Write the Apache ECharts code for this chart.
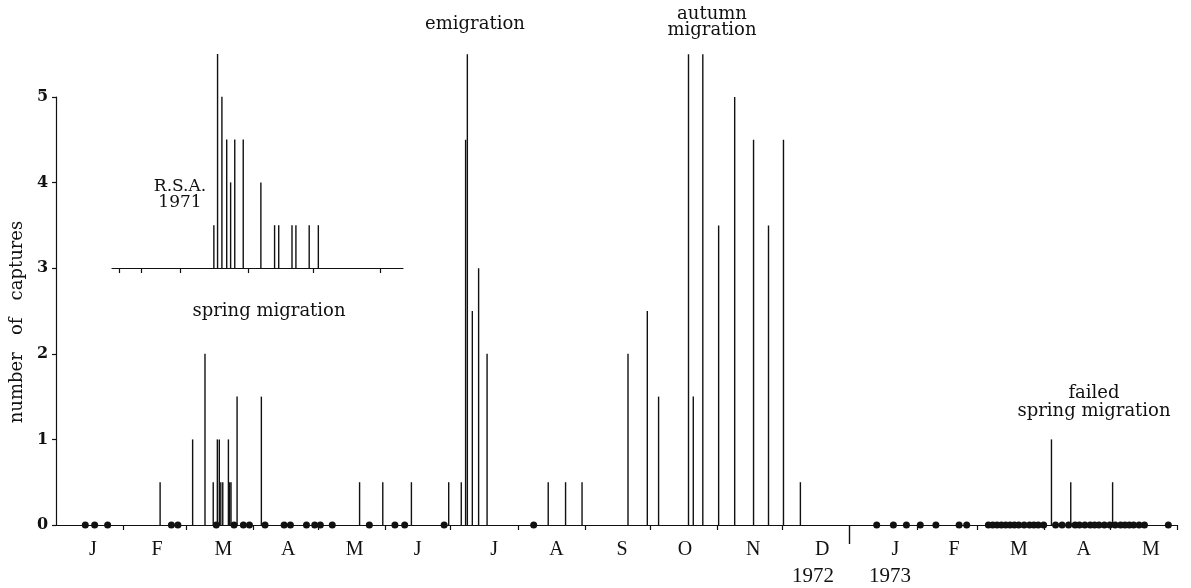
<!DOCTYPE html>
<html><head><meta charset="utf-8">
<script src="https://cdn.jsdelivr.net/npm/echarts@6/dist/echarts.min.js"></script>
<style>html,body{margin:0;padding:0;background:#fff}#c{width:1191px;height:588px}</style>
</head><body><div id="c"></div>
<script>
// x values: days counted from 1 January 1972 (inset: days from 1 January 1971)
const monthLabels = ['J','F','M','A','M','J','J','A','S','O','N','D','J','F','M','A','M'];
const monthLabelDays = [17,46.6,77.2,107.1,137.7,166.8,202.1,230.8,261,290.1,321.6,353.4,387.1,414.2,444.1,474,505];
const monthStartDays = [31,60,91,121,152,182,213,244,274,305,335,397,425,456,486,517];
const yearBreakDays = [366];
const yearLabels = ['1972','1973'];

const captureDays = [48,63,68.7,72.5,74.4,75.3,76.0,76.9,79.5,80.1,80.7,83.5,94.7,
  140,150.7,163.9,181.1,186.9,188.9,189.7,192,194.9,198.8,
  227,235,242.6,263.8,272.7,277.9,291.7,293.9,298.3,305.6,313,321.7,328.6,335.5,343.3,
  459.1,468,487.3];
const captureValues = [0.5,1,2,0.5,1,1,0.5,0.5,1,0.5,0.5,1.5,1.5,
  0.5,0.5,0.5,0.5,0.5,4.5,5.5,2.5,3,2,
  0.5,0.5,0.5,2,2.5,1.5,5.5,1.5,5.5,3.5,5,4.5,3.5,4.5,0.5,
  1,0.5,0.5];

const zeroDays = [13.5,17.8,23.8,53.2,56.2,73.9,82.1,86.4,89.2,96.4,105.2,108.1,115.5,119.3,121.9,127.4,
  144.5,156.3,160.8,179,220.3,
  378.5,386.2,392.2,398.6,405.8,416.5,420,
  430,432,434,436,438,440,442,444,446.5,449,451,453,455.5,
  461,464,467,470,472,474.5,477,479,481,483.5,486,
  488.5,491,493,495,497,499.5,502,513];

const insetDays = [74.4,76.1,78.1,80.3,82.1,84.0,87.9,96.0,102.3,104.2,110.3,112.1,118.2,122.4];
const insetValues = [0.5,2.5,2,1.5,1,1.5,1.5,1,0.5,0.5,0.5,0.5,0.5,0.5];
const insetTickDays = [31,41,59,90,120,151];

const ink = '#111';
const serif = '"DejaVu Serif", serif';
const times = '"Liberation Serif", "Times New Roman", serif';

function label(x, y, text, font, lh) {
  return {type: 'text', x: x, y: y, style: {text: text, font: font, lineHeight: lh, fill: ink,
    align: 'center', verticalAlign: 'middle', textAlign: 'center', textVerticalAlign: 'middle'}};
}

const chart = echarts.init(document.getElementById('c'), null, {renderer:'canvas'});
chart.setOption({
  animation: false,
  backgroundColor: '#fff',
  grid: [
    {left: 52, right: 14, top: 97, bottom: 63},
    {left: 112, right: 788, top: 54, bottom: 320}
  ],
  xAxis: [
    {gridIndex: 0, type: 'value', min: 0, max: 517,
     axisLine: {show: true, lineStyle: {color: ink, width: 1.2}},
     axisTick: {show: true, customValues: monthStartDays, length: 5, lineStyle: {color: ink, width: 1.2}},
     axisLabel: {show: true, customValues: monthLabelDays, margin: 15,
       formatter: v => monthLabels[monthLabelDays.indexOf(v)] || '',
       color: ink, fontFamily: times, fontSize: 20},
     splitLine: {show: false}},
    {gridIndex: 0, type: 'value', min: 0, max: 517,
     axisLine: {show: false},
     axisTick: {show: true, customValues: yearBreakDays, length: 19, lineStyle: {color: ink, width: 1.4}},
     axisLabel: {show: false}, splitLine: {show: false}, position: 'bottom'},
    {gridIndex: 1, type: 'value', min: 27.6, max: 161.3,
     axisLine: {show: true, lineStyle: {color: ink, width: 1.2}},
     axisTick: {show: true, customValues: insetTickDays, length: 5, lineStyle: {color: ink, width: 1.2}},
     axisLabel: {show: false}, splitLine: {show: false}}
  ],
  yAxis: [
    {gridIndex: 0, type: 'value', min: 0, max: 5, interval: 1,
     name: 'number   of   captures', nameLocation: 'middle', nameRotate: 90, nameGap: 26,
     nameTextStyle: {fontFamily: serif, fontSize: 18, color: ink, padding: [0, 22, 0, 0]},
     axisLine: {show: true, lineStyle: {color: ink, width: 1.2}},
     axisTick: {show: true, length: 4, lineStyle: {color: ink, width: 1.2}},
     axisLabel: {margin: 8, color: ink, fontFamily: serif, fontWeight: 'bold', fontSize: 16},
     splitLine: {show: false}},
    {gridIndex: 1, type: 'value', min: 0, max: 2.5, show: false, splitLine: {show: false}}
  ],
  series: [
    {type: 'bar', xAxisIndex: 0, yAxisIndex: 0, clip: false, barWidth: 1.4,
     itemStyle: {color: ink, opacity: 1}, data: captureDays.map((d, i) => [d, captureValues[i]]), z: 3},
    {type: 'scatter', xAxisIndex: 0, yAxisIndex: 0, clip: false, symbol: 'circle', symbolSize: 7,
     itemStyle: {color: ink, opacity: 1}, data: zeroDays.map(d => [d, 0]), z: 4},
    {type: 'bar', xAxisIndex: 2, yAxisIndex: 1, clip: false, barWidth: 1.4,
     itemStyle: {color: ink, opacity: 1}, data: insetDays.map((d, i) => [d, insetValues[i]]), z: 3}
  ],
  graphic: [
    label(475, 24, 'emigration', '18px ' + serif, 18),
    label(712, 22, 'autumn\nmigration', '18px ' + serif, 16),
    label(1094, 402, 'failed\nspring migration', '18px ' + serif, 18),
    label(180, 195, 'R.S.A.\n1971', '17px ' + serif, 16),
    label(269, 311, 'spring migration', '18px ' + serif, 18),
    label(813, 576, yearLabels[0], '21px ' + times, 21),
    label(890, 576, yearLabels[1], '21px ' + times, 21)
  ]
});
</script>
</body></html>
